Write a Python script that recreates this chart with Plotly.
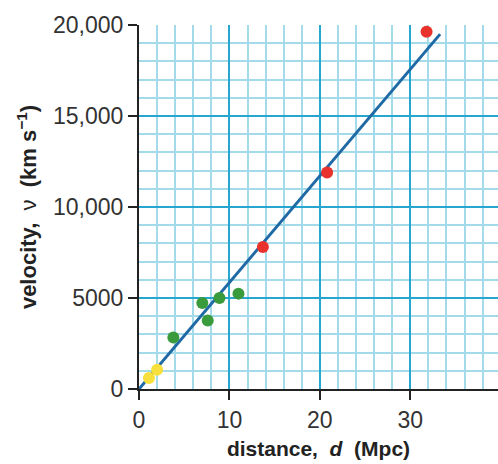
import plotly.graph_objects as go

# Data
yellow_d = [1.1, 2.0]
yellow_v = [600, 1060]
green_d = [3.8, 7.0, 7.6, 8.9, 11.0]
green_v = [2830, 4720, 3770, 5000, 5240]
red_d = [13.7, 20.8, 31.8]
red_v = [7800, 11900, 19630]
fit_d = [0, 33.3]
fit_v = [0, 19500]

x_ticks = [0, 10, 20, 30]
y_ticks = [0, 5000, 10000, 15000, 20000]
y_ticklabels = ["0", "5000", "10,000", "15,000", "20,000"]

fig = go.Figure()
fig.add_trace(go.Scatter(x=fit_d, y=fit_v, mode="lines",
                         line=dict(color="#1f6aa5", width=3), showlegend=False))
for xs, ys, col in [(yellow_d, yellow_v, "#f7e03c"),
                    (green_d, green_v, "#3a9b3c"),
                    (red_d, red_v, "#e8322b")]:
    fig.add_trace(go.Scatter(x=xs, y=ys, mode="markers",
                             marker=dict(color=col, size=12, line=dict(width=0)),
                             showlegend=False))

fig.update_layout(
    width=498, height=464,
    margin=dict(l=139, r=0, t=25, b=75),
    paper_bgcolor="white", plot_bgcolor="white",
    font=dict(family="Liberation Sans, Arial, sans-serif", color="#333333"),
)
fig.update_xaxes(
    range=[0, 39.7], tickvals=x_ticks, ticktext=[str(t) for t in x_ticks],
    automargin=False,
    showgrid=True, gridcolor="#27a6cf", gridwidth=2,
    minor=dict(dtick=2, tick0=0, showgrid=True, gridcolor="#a3dbea", gridwidth=1.5),
    showline=True, linecolor="#222222", linewidth=2,
    ticks="outside", ticklen=9, tickwidth=2, tickcolor="#222222",
    tickfont=dict(size=23, color="#333333"),
    zeroline=False,
    title=dict(text="<b>distance,  <i>d</i>  (Mpc)</b>", font=dict(size=21, color="#222222"), standoff=10),
)
fig.update_yaxes(
    range=[0, 20000], tickvals=y_ticks, ticktext=y_ticklabels,
    automargin=False,
    showgrid=True, gridcolor="#27a6cf", gridwidth=2,
    minor=dict(dtick=1000, tick0=0, showgrid=True, gridcolor="#a3dbea", gridwidth=1.5),
    showline=True, linecolor="#222222", linewidth=2,
    ticks="outside", ticklen=9, tickwidth=2, tickcolor="#222222",
    tickfont=dict(size=23, color="#333333"),
    zeroline=False,
    title=dict(text="<b>velocity,  </b>ν<b>  (km s<sup>−1</sup>)</b>", font=dict(size=22, color="#222222"), standoff=10),
)
fig.write_html("out.html", config={"displayModeBar": False},
               post_script="document.body.style.margin='0';document.body.style.overflow='hidden';")
